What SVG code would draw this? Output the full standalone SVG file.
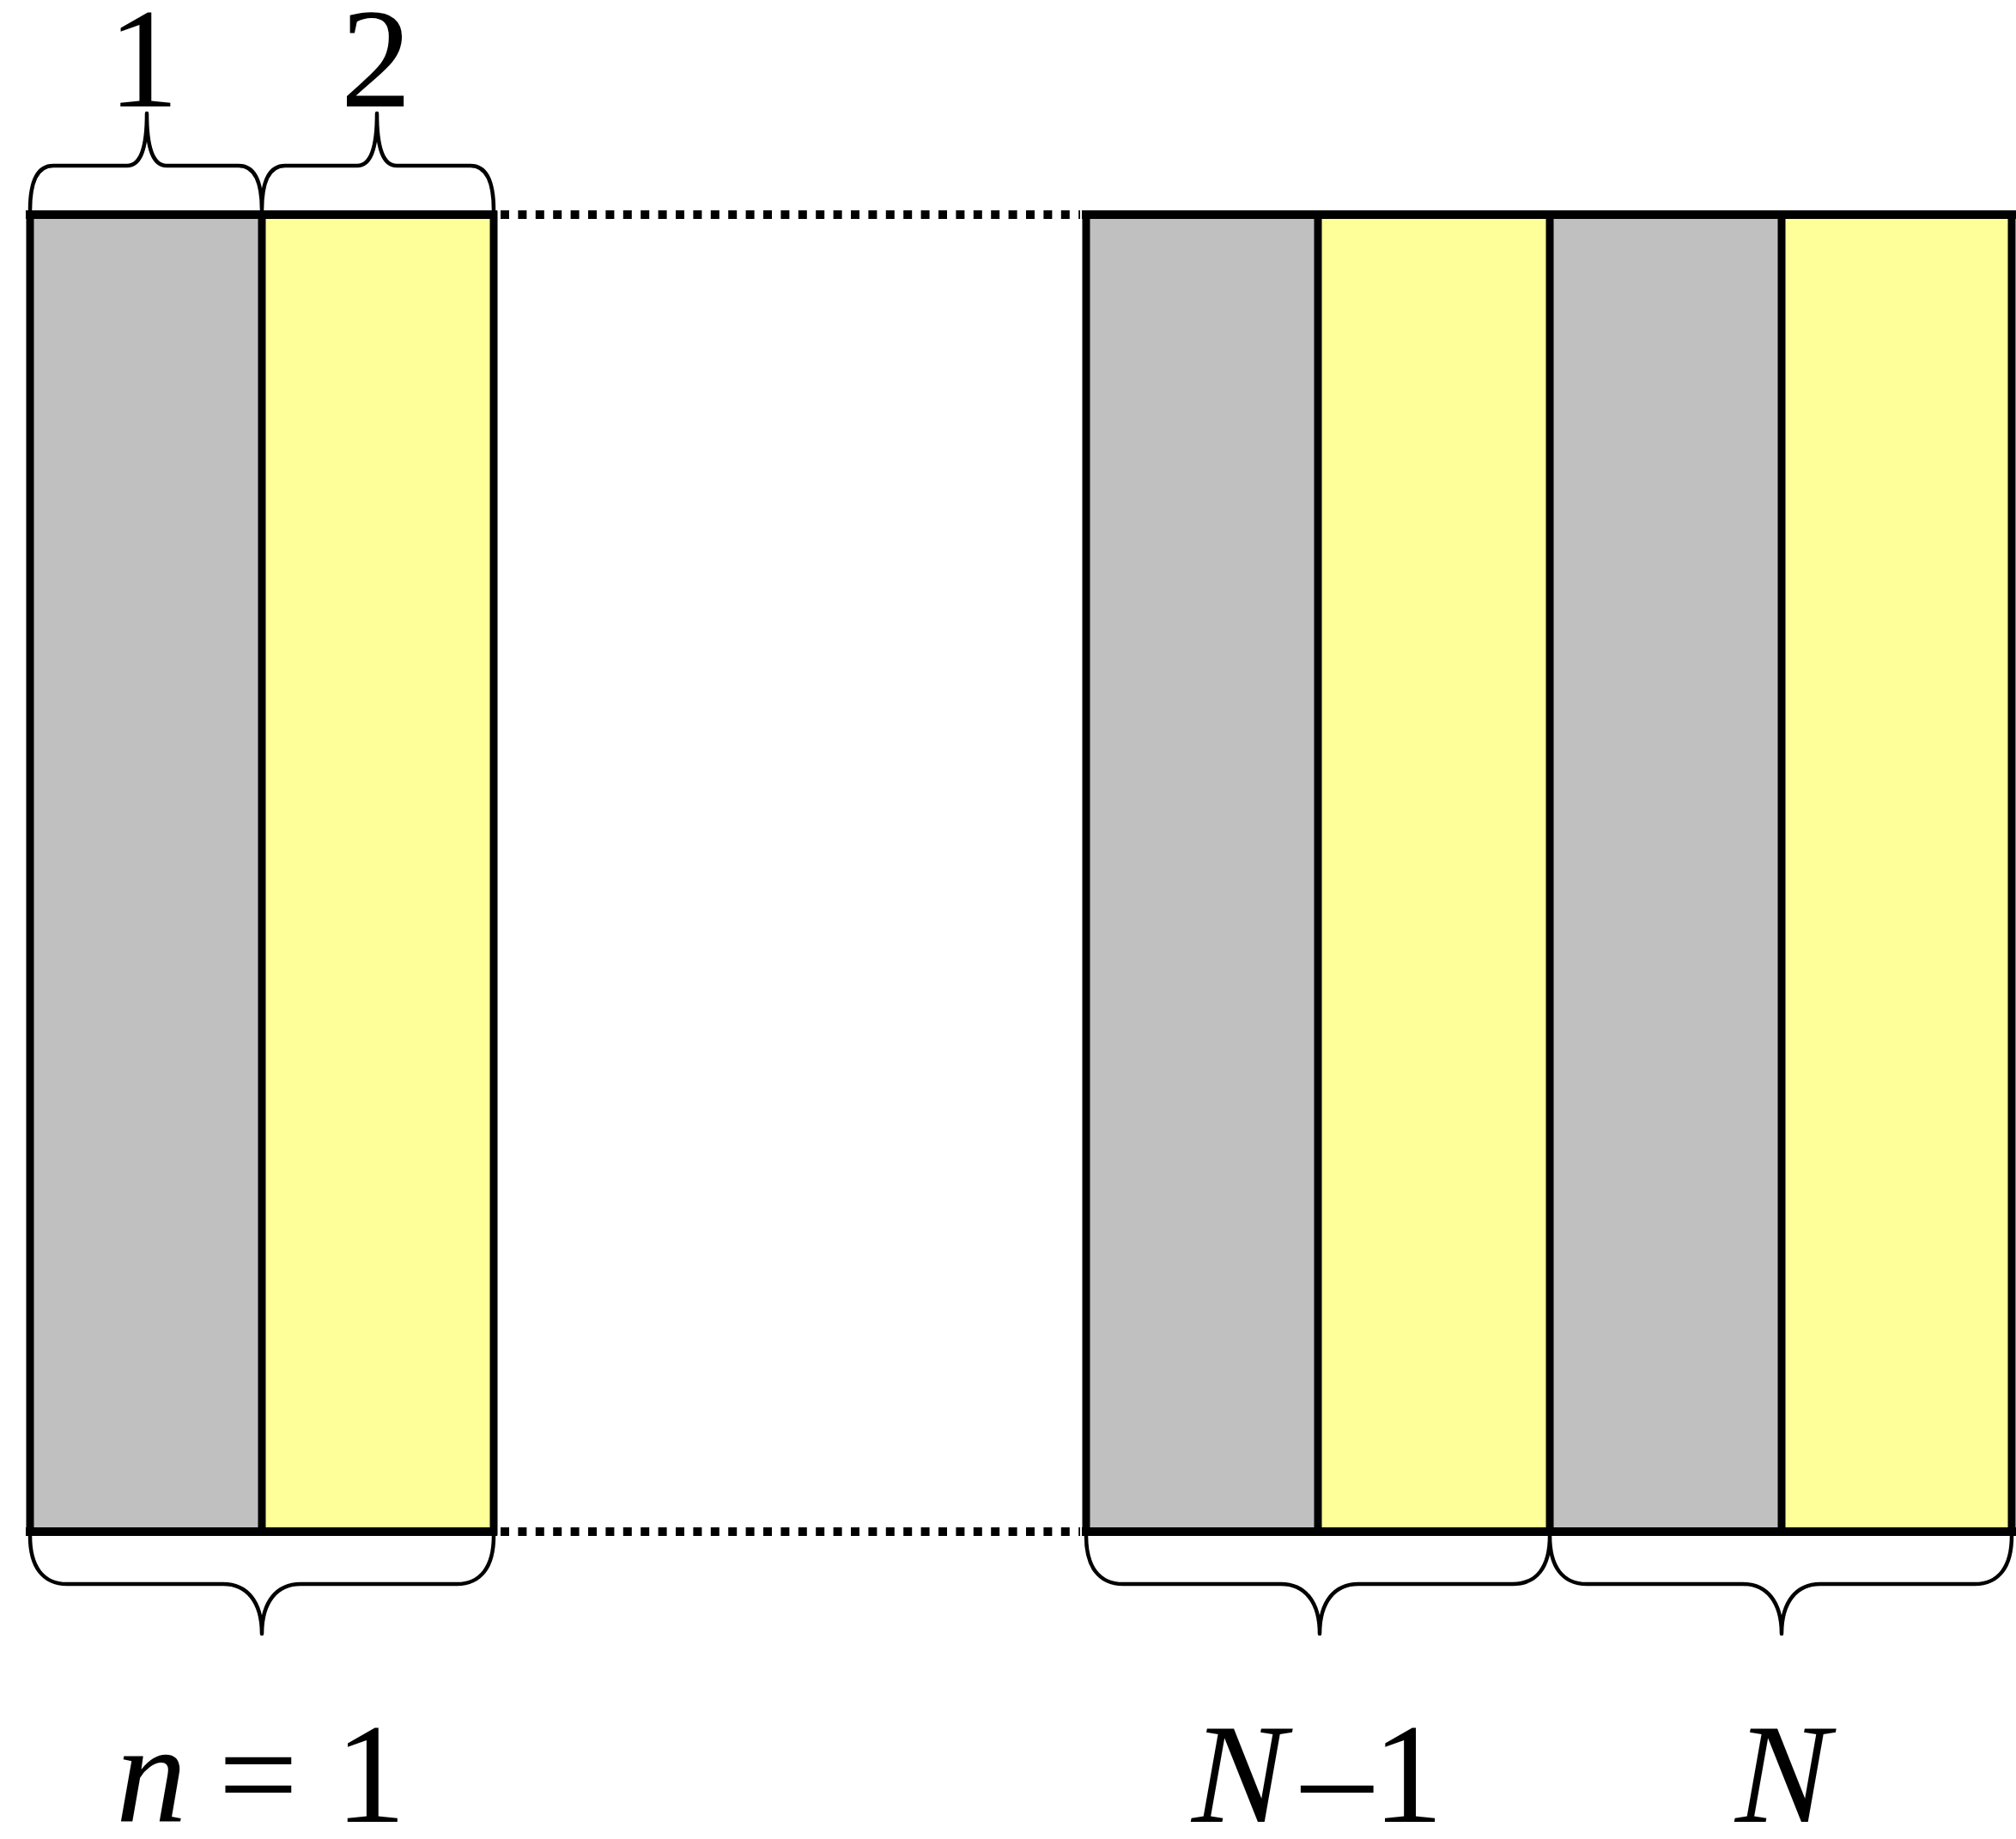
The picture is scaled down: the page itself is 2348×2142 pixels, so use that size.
<svg xmlns="http://www.w3.org/2000/svg" width="2348" height="2142" viewBox="0 0 2348 2142">
<style>
.g{fill:#C0C0C0;stroke:none}
.y{fill:#FFFF99;stroke:none}
.ln{stroke:#000;stroke-width:9;fill:none;stroke-linecap:square}
.hl{stroke:#000;stroke-width:10;fill:none}
.dot{stroke:#000;stroke-width:10;fill:none;stroke-dasharray:10 10.4}
.br{stroke:#000;stroke-width:4.5;fill:none;stroke-linejoin:round}
</style>
<rect width="2348" height="2142" fill="#fff"/>
<g id="cells">
<rect class="g" x="35" y="250" width="270" height="1534"/>
<rect class="y" x="305" y="250" width="270" height="1534"/>
<rect class="g" x="1265" y="250" width="270" height="1534"/>
<rect class="y" x="1535" y="250" width="270" height="1534"/>
<rect class="g" x="1805" y="250" width="270" height="1534"/>
<rect class="y" x="2075" y="250" width="268" height="1534"/>
</g>
<g id="lines">
<line class="ln" x1="35" y1="250" x2="35" y2="1784"/>
<line class="ln" x1="305" y1="250" x2="305" y2="1784"/>
<line class="ln" x1="575" y1="250" x2="575" y2="1784"/>
<line class="hl" x1="30" y1="250" x2="579" y2="250"/>
<line class="hl" x1="30" y1="1784" x2="579" y2="1784"/>
<line class="ln" x1="1265" y1="250" x2="1265" y2="1784"/>
<line class="ln" x1="1535" y1="250" x2="1535" y2="1784"/>
<line class="ln" x1="1805" y1="250" x2="1805" y2="1784"/>
<line class="ln" x1="2075" y1="250" x2="2075" y2="1784"/>
<line class="ln" x1="2343" y1="250" x2="2343" y2="1784"/>
<line class="hl" x1="1260" y1="250" x2="2348" y2="250"/>
<line class="hl" x1="1260" y1="1784" x2="2348" y2="1784"/>
</g>
<g id="connectors">
<line class="dot" x1="583" y1="250" x2="1258" y2="250"/>
<line class="dot" x1="583" y1="1784" x2="1258" y2="1784"/>
</g>
<g id="braces">
<path class="br" d="M35 245 C35 208 45 193 62 193 L148 193 C163 193 171 175 171 132 C171 175 179 193 194 193 L278 193 C295 193 305 208 305 245 C305 208 315 193 332 193 L416 193 C431 193 439 175 439 132 C439 175 447 193 462 193 L548 193 C565 193 575 208 575 245"/>
<path class="br" d="M35 1789 C35 1825 50 1845 78 1845 L260 1845 C287 1845 305 1865 305 1903 C305 1865 323 1845 350 1845 L532 1845 C560 1845 575 1825 575 1789"/>
<path class="br" d="M1265 1789 C1265 1825 1280 1845 1308 1845 L1492 1845 C1519 1845 1537 1865 1537 1903 C1537 1865 1555 1845 1582 1845 L1762 1845 C1790 1845 1805 1825 1805 1789 C1805 1825 1820 1845 1848 1845 L2030 1845 C2057 1845 2075 1865 2075 1903 C2075 1865 2093 1845 2120 1845 L2300 1845 C2328 1845 2343 1825 2343 1789"/>
</g>
<g id="labels" fill="#000">
<text x="167" y="124" text-anchor="middle" font-family="'Liberation Serif', serif" font-size="165">1</text>
<text x="438" y="124" text-anchor="middle" font-family="'Liberation Serif', serif" font-size="165">2</text>
<text x="135" y="2122" font-family="'Liberation Serif', serif" font-size="165"><tspan font-style="italic">n</tspan><tspan x="213"> =</tspan><tspan x="349"> 1</tspan></text>
<text x="1388" y="2122" font-family="'Liberation Serif', serif" font-size="165"><tspan font-style="italic">N</tspan><tspan x="1516">–1</tspan></text>
<text x="2076" y="2122" text-anchor="middle" font-family="'Liberation Serif', serif" font-size="165" font-style="italic">N</text>
</g>
</svg>
